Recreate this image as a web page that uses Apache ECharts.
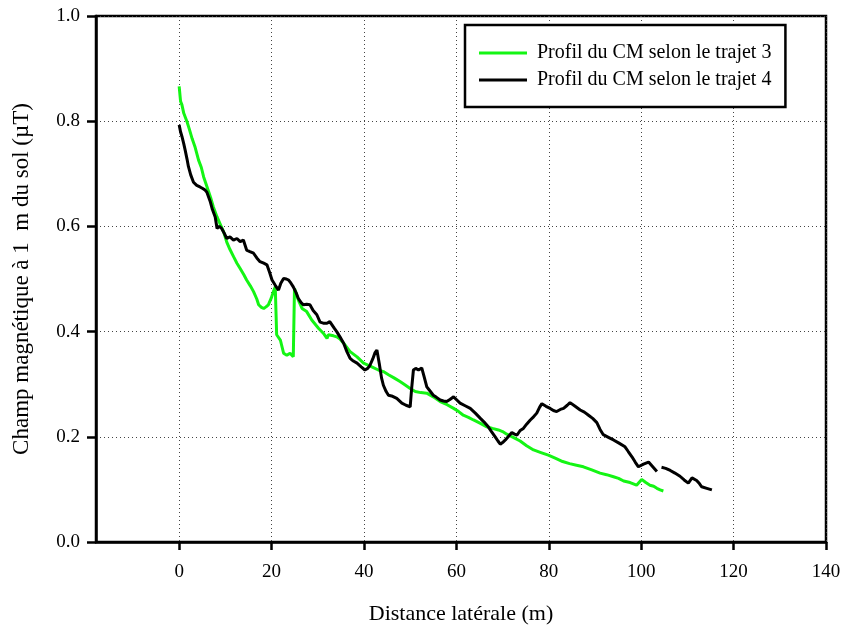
<!DOCTYPE html>
<html>
<head>
<meta charset="utf-8">
<script src="https://cdn.jsdelivr.net/npm/echarts@6/dist/echarts.min.js"></script>
<style>
  html, body { margin: 0; padding: 0; background: #fff; }
  #chart { width: 846px; height: 630px; }
</style>
</head>
<body>
<div id="chart"></div>
<script>
// Lateral distance (m) and field values (µT), profile along path 3
const traj3X = [0, 0.3, 0.6, 1.0, 1.7, 2.2, 2.8, 3.4, 4.2, 4.8, 5.3, 6.0, 6.8, 7.4, 8.2, 8.9, 9.6, 10.3, 11.0, 11.8,
  12.5, 13.2, 14.0, 14.6, 15.4, 16.1, 16.8, 17.2, 17.8, 18.3, 18.8, 19.3, 19.9, 20.4, 20.8, 21.1, 21.9, 22.6, 23.3, 24.0,
  24.7, 24.96, 25.8, 26.6, 27.6, 28.7, 30.2, 31.2, 32.0, 32.3, 33.4, 34.1, 34.8, 35.6, 37.0, 38.5, 39.9, 41.7, 43.1, 44.2,
  45.3, 46.5, 47.8, 49.0, 50.0, 51.1, 52.3, 53.6, 55.0, 56.5, 58.0, 59.4, 60.5, 61.5, 62.6, 63.7, 65.1, 66.6, 67.8, 69.1,
  70.0, 70.9, 72.3, 73.8, 75.2, 76.7, 78.3, 79.9, 81.5, 83.0, 84.5, 86.0, 87.5, 89.3, 91.1, 92.5, 94.0, 95.1, 96.2, 97.6,
  99.0, 100.1, 101.0, 101.9, 102.7, 103.4, 104.1, 104.8];
const traj3Y = [0.866, 0.838, 0.831, 0.815, 0.799, 0.785, 0.767, 0.752, 0.726, 0.712, 0.694, 0.676, 0.655, 0.637, 0.618, 0.604, 0.590, 0.570, 0.556, 0.542,
  0.530, 0.520, 0.508, 0.498, 0.487, 0.476, 0.462, 0.451, 0.446, 0.444, 0.447, 0.451, 0.463, 0.476, 0.485, 0.394, 0.384, 0.359, 0.355, 0.359,
  0.352, 0.482, 0.460, 0.444, 0.438, 0.422, 0.406, 0.397, 0.387, 0.394, 0.392, 0.390, 0.386, 0.378, 0.362, 0.352, 0.340, 0.333, 0.327, 0.324,
  0.318, 0.312, 0.305, 0.298, 0.292, 0.286, 0.284, 0.283, 0.276, 0.267, 0.261, 0.254, 0.248, 0.241, 0.237, 0.232, 0.226, 0.219, 0.216, 0.213,
  0.210, 0.205, 0.199, 0.192, 0.183, 0.175, 0.170, 0.165, 0.159, 0.153, 0.149, 0.146, 0.143, 0.137, 0.131, 0.128, 0.124, 0.121, 0.116, 0.113,
  0.108, 0.119, 0.113, 0.108, 0.106, 0.102, 0.099, 0.097];

// Profile along path 4 (null marks the break in the record)
const traj4X = [0, 0.3, 0.6, 1.0, 1.3, 1.7, 2.0, 2.5, 3.1, 3.8, 4.5, 5.1, 5.6, 6.0, 6.7, 7.2, 7.8, 8.2, 8.7, 9.2,
  9.7, 10.3, 11.0, 11.75, 12.5, 13.2, 13.9, 14.6, 15.3, 16.1, 16.8, 17.5, 18.3, 19.0, 19.6, 20.1, 20.8, 21.5, 22.0, 22.6,
  23.2, 23.7, 24.2, 24.7, 25.3, 25.8, 26.4, 26.9, 27.6, 28.3, 29.0, 29.8, 30.5, 31.2, 32.0, 32.6, 33.0, 33.6, 34.1, 34.8,
  35.6, 36.3, 37.0, 37.7, 38.5, 39.4, 40.2, 40.8, 41.3, 41.9, 42.4, 42.8, 43.3, 43.8, 44.2, 44.8, 45.3, 46.2, 47.1, 48.2,
  49.1, 50.0, 50.3, 50.7, 51.2, 51.8, 52.5, 53.0, 53.6, 54.3, 55.0, 55.7, 56.5, 57.2, 57.9, 58.6, 59.4, 60.1, 60.8, 61.9,
  63.0, 64.1, 65.2, 66.0, 66.9, 67.6, 68.4, 69.0, 69.5, 70.0, 70.6, 71.3, 72.0, 72.6, 73.1, 73.8, 74.5, 75.2, 76.0, 76.7,
  77.4, 78.0, 78.5, 79.4, 80.3, 81.0, 81.7, 82.5, 83.2, 84.0, 84.6, 85.7, 86.8, 87.7, 88.6, 89.5, 90.4, 91.1, 91.8, 92.9,
  94.0, 95.2, 96.5, 97.2, 98.0, 98.7, 99.4, 100.5, 101.6, 102.5, 103.4, 103.9, 104.4, 105.3, 106.3, 107.3, 108.4, 109.3, 110.2, 111.0,
  112.0, 112.6, 113.1, 114.2, 115.3];
const traj4Y = [0.793, 0.780, 0.771, 0.757, 0.745, 0.728, 0.714, 0.698, 0.684, 0.678, 0.675, 0.672, 0.669, 0.665, 0.648, 0.632, 0.618, 0.596, 0.600, 0.596,
  0.588, 0.577, 0.580, 0.574, 0.577, 0.571, 0.574, 0.555, 0.552, 0.549, 0.540, 0.533, 0.530, 0.527, 0.512, 0.498, 0.488, 0.479, 0.492, 0.501,
  0.500, 0.498, 0.492, 0.485, 0.474, 0.463, 0.455, 0.451, 0.452, 0.451, 0.440, 0.432, 0.418, 0.416, 0.416, 0.419, 0.416, 0.406, 0.400, 0.390,
  0.378, 0.362, 0.349, 0.344, 0.340, 0.333, 0.327, 0.330, 0.336, 0.348, 0.360, 0.365, 0.340, 0.312, 0.298, 0.286, 0.279, 0.277, 0.273, 0.264,
  0.260, 0.257, 0.290, 0.327, 0.330, 0.327, 0.331, 0.315, 0.295, 0.287, 0.279, 0.275, 0.270, 0.268, 0.267, 0.271, 0.276, 0.270, 0.264, 0.259,
  0.254, 0.245, 0.235, 0.228, 0.219, 0.210, 0.200, 0.192, 0.186, 0.189, 0.194, 0.201, 0.208, 0.205, 0.203, 0.212, 0.216, 0.224, 0.232, 0.238,
  0.245, 0.256, 0.263, 0.258, 0.254, 0.250, 0.248, 0.252, 0.254, 0.260, 0.265, 0.258, 0.251, 0.247, 0.241, 0.235, 0.227, 0.214, 0.204, 0.199,
  0.194, 0.188, 0.181, 0.172, 0.162, 0.152, 0.143, 0.148, 0.152, 0.143, 0.134, null, 0.142, 0.140, 0.136, 0.131, 0.125, 0.118, 0.112, 0.122,
  0.117, 0.111, 0.105, 0.102, 0.099];

const seriesNames = ['Profil du CM selon le trajet 3', 'Profil du CM selon le trajet 4'];
const seriesColors = ['#14f514', '#000000'];
const xAxisTitle = 'Distance latérale (m)';
const yAxisTitle = 'Champ magnétique à 1  m du sol (µT)';

const pairs = (xs, ys) => xs.map((x, i) => [x, ys[i]]);
const FONT = 'Liberation Serif';
const gridLine = { show: true, lineStyle: { color: '#444', width: 1, type: [1, 3] } };

const chart = echarts.init(document.getElementById('chart'));
chart.setOption({
  animation: false,
  backgroundColor: '#fff',
  textStyle: { fontFamily: FONT, color: '#000' },
  grid: {
    left: 96, right: 20, top: 16, bottom: 88,
    show: true, borderColor: '#000', borderWidth: 2.5, backgroundColor: 'transparent'
  },
  legend: {
    left: 465, top: 25,
    orient: 'vertical',
    selectedMode: false,
    data: seriesNames.map(n => ({ name: n, icon: 'rect' })),
    itemWidth: 48, itemHeight: 3, itemGap: 7,
    padding: [18, 14, 17, 14],
    borderColor: '#000', borderWidth: 2.5,
    backgroundColor: '#fff',
    textStyle: { fontFamily: FONT, fontSize: 20, lineHeight: 20, color: '#000', padding: [0, 0, 0, 5] }
  },
  xAxis: {
    type: 'value',
    min: -18, max: 140,
    splitNumber: 8, minInterval: 20, maxInterval: 20,
    name: xAxisTitle, nameLocation: 'middle', nameGap: 61,
    nameTextStyle: { fontFamily: FONT, fontSize: 22, color: '#000' },
    axisLine: { show: true, onZero: false, lineStyle: { color: '#000', width: 2.5 } },
    axisTick: { show: true, inside: false, length: 8, lineStyle: { color: '#000', width: 2.5 } },
    axisLabel: {
      showMinLabel: false, margin: 21,
      fontFamily: FONT, fontSize: 19, color: '#000',
      formatter: v => (v < 0 ? '' : String(v))
    },
    splitLine: gridLine
  },
  yAxis: {
    type: 'value',
    min: 0, max: 1, interval: 0.2,
    name: yAxisTitle, nameLocation: 'middle', nameGap: 63,
    nameTextStyle: { fontFamily: FONT, fontSize: 23, color: '#000' },
    axisLine: { show: true, onZero: false, lineStyle: { color: '#000', width: 2.5 } },
    axisTick: { show: true, inside: false, length: 9, lineStyle: { color: '#000', width: 2.5 } },
    axisLabel: {
      margin: 16, fontFamily: FONT, fontSize: 19, color: '#000',
      formatter: v => v.toFixed(1)
    },
    splitLine: gridLine
  },
  series: [
    {
      name: seriesNames[0], type: 'line',
      data: pairs(traj3X, traj3Y),
      showSymbol: false, symbol: 'none',
      lineStyle: { color: seriesColors[0], width: 3 },
      itemStyle: { color: seriesColors[0] },
      connectNulls: false, z: 2
    },
    {
      name: seriesNames[1], type: 'line',
      data: pairs(traj4X, traj4Y),
      showSymbol: false, symbol: 'none',
      lineStyle: { color: seriesColors[1], width: 3 },
      itemStyle: { color: seriesColors[1] },
      connectNulls: false, z: 3
    }
  ]
});
</script>
</body>
</html>
